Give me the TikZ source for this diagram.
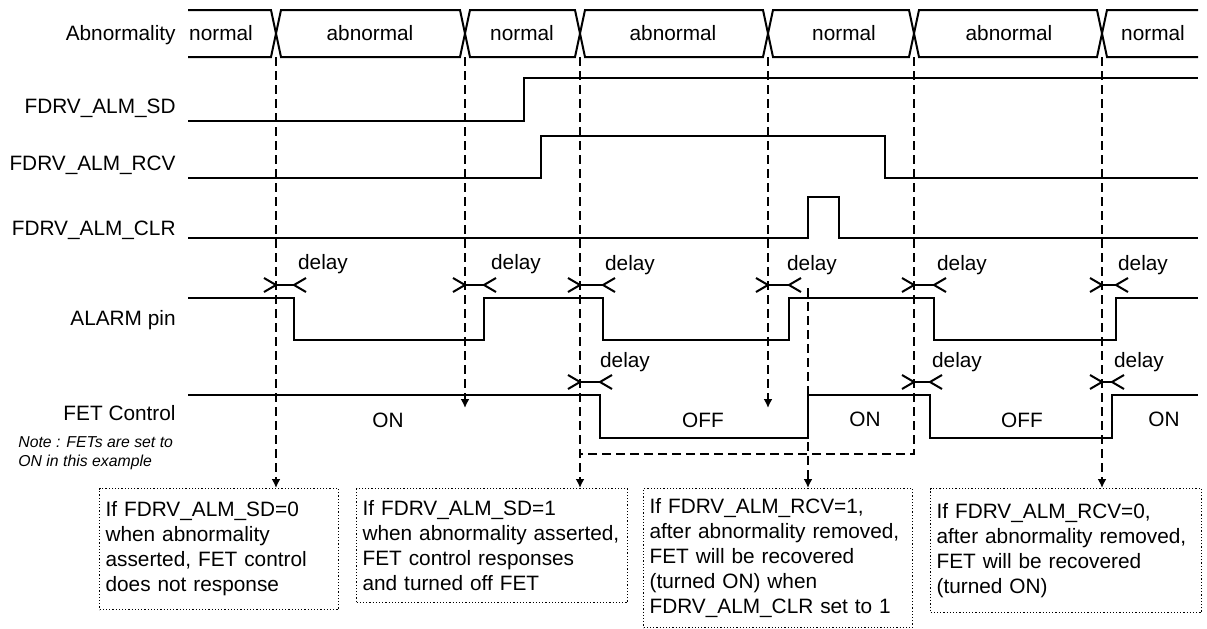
\documentclass[tikz,border=0pt]{standalone}
\usepackage{fontspec}
\setmainfont{Liberation Sans}
\usepackage{tikz}
\usetikzlibrary{arrows.meta,positioning,calc}

% delay marker: tip at #1 and #2, height #3
\newcommand{\delaymark}[3]{%
  \draw[delayline] (#1,#3) -- (#2,#3);
  \draw[delayline] (#1-12,#3-7) -- (#1,#3) -- (#1-12,#3+7);
  \draw[delayline] (#2+12,#3-7) -- (#2,#3) -- (#2+12,#3+7);
}

\begin{document}
\begin{tikzpicture}[
    x=0.5pt,
    y=-0.5pt,
    font=\fontsize{10.4}{12.5}\selectfont,
    sig/.style={line width=1pt},
    guide/.style={dash pattern=on 4.5pt off 2.5pt, line width=1pt},
    delayline/.style={line width=1pt},
    txt/.style={inner sep=0pt, text height=7.5pt, text depth=0pt},
    siglabel/.style={txt, anchor=east},
    notebox/.style={draw, densely dotted, line width=0.6pt, align=left,
        anchor=north west, inner xsep=3pt, inner ysep=3pt,
        execute at begin node={\hyphenpenalty=10000}},
    >={Latex[length=4.5pt,width=4.5pt]}
]
    \useasboundingbox (0,0) rectangle (1207,628);

    % Signal names
    \node[siglabel] (nAbn) at (176,33) {Abnormality};
    \node[siglabel] (nSD) at (176,106) {FDRV\_ALM\_SD};
    \node[siglabel] (nRCV) at (176,163) {FDRV\_ALM\_RCV};
    \node[siglabel] (nCLR) at (176,228) {FDRV\_ALM\_CLR};
    \node[siglabel] (nAlarm) at (176,318) {ALARM pin};
    \node[siglabel] (nFET) at (176,413) {FET Control};
    \node[anchor=north west, inner sep=0pt, align=left,
        font=\fontsize{7.9}{9.5}\selectfont\itshape] (note) at (18,436)
        {Note : FETs are set to\\ON in this example};

    % Abnormality bus
    \draw[sig] (188,10) -- (271,10) -- (281,57) -- (460,57) -- (470,10) -- (575,10) -- (585,57)
        -- (763,57) -- (773,10) -- (909,10) -- (919,57) -- (1097,57) -- (1107,10) -- (1198,10);
    \draw[sig] (188,57) -- (271,57) -- (281,10) -- (460,10) -- (470,57) -- (575,57) -- (585,10)
        -- (763,10) -- (773,57) -- (909,57) -- (919,10) -- (1097,10) -- (1107,57) -- (1198,57);
    \node[txt] (s1) at (221,33) {normal};
    \node[txt] (s2) at (370,33) {abnormal};
    \node[txt] (s3) at (522,33) {normal};
    \node[txt] (s4) at (673,33) {abnormal};
    \node[txt] (s5) at (844,33) {normal};
    \node[txt] (s6) at (1009,33) {abnormal};
    \node[txt] (s7) at (1153,33) {normal};

    % Register bits
    \draw[sig] (188,121) -- (524,121) -- (524,78) -- (1198,78);
    \draw[sig] (188,178) -- (541,178) -- (541,136) -- (885,136) -- (885,178) -- (1198,178);
    \draw[sig] (188,238) -- (808,238) -- (808,197) -- (839,197) -- (839,238) -- (1198,238);

    % ALARM pin
    \draw[sig] (188,298) -- (294,298) -- (294,340) -- (484,340) -- (484,298) -- (603,298)
        -- (603,340) -- (789,340) -- (789,298) -- (934,298) -- (934,340) -- (1116,340)
        -- (1116,298) -- (1198,298);
    \delaymark{276}{294}{285}
    \delaymark{465}{484}{285}
    \delaymark{580}{603}{285}
    \delaymark{768}{789}{285}
    \delaymark{914}{934}{285}
    \delaymark{1102}{1116}{285}
    \node[txt] (d1) at (323,262) {delay};
    \node[txt] (d2) at (516,262) {delay};
    \node[txt] (d3) at (630,263) {delay};
    \node[txt] (d4) at (812,263) {delay};
    \node[txt] (d5) at (962,263) {delay};
    \node[txt] (d6) at (1143,263) {delay};

    % FET control
    \draw[sig] (188,395) -- (600,395) -- (600,438) -- (808,438) -- (808,395) -- (930,395)
        -- (930,438) -- (1112,438) -- (1112,395) -- (1198,395);
    \delaymark{580}{600}{382}
    \delaymark{914}{930}{382}
    \delaymark{1102}{1112}{382}
    \node[txt] (d7) at (625,360) {delay};
    \node[txt] (d8) at (957,360) {delay};
    \node[txt] (d9) at (1139,360) {delay};
    \node[txt] (f1) at (388,420) {ON};
    \node[txt] (f2) at (703,420) {OFF};
    \node[txt] (f3) at (865,419) {ON};
    \node[txt] (f4) at (1022,420) {OFF};
    \node[txt] (f5) at (1164,419) {ON};

    % Notes
    \node[notebox, text width=113.5pt, minimum height=60.5pt] (box1) at (99,488)
        {If FDRV\_ALM\_SD=0\\when abnormality\\asserted, FET control\\does not response};
    \node[notebox, text width=129.5pt, minimum height=57pt] (box2) at (356,488)
        {If FDRV\_ALM\_SD=1\\when abnormality asserted,\\FET control responses\\and turned off FET};
    \node[notebox, text width=128.5pt, minimum height=69.5pt] (box3) at (643,488)
        {If FDRV\_ALM\_RCV=1,\\after abnormality removed,\\FET will be recovered\\(turned ON) when\\FDRV\_ALM\_CLR set to 1};
    \node[notebox, text width=129.5pt, minimum height=62pt] (box4) at (930,488)
        {If FDRV\_ALM\_RCV=0,\\after abnormality removed,\\FET will be recovered\\(turned ON)};

    % Guides
    \coordinate (c1) at (276,57);
    \coordinate (c2) at (465,57);
    \coordinate (c3) at (580,57);
    \coordinate (c4) at (768,57);
    \coordinate (c5) at (914,57);
    \coordinate (c6) at (1102,57);
    \coordinate (e2) at (465,408);
    \coordinate (e4) at (768,408);
    \coordinate (k) at (914,454);
    \coordinate (clr) at (808,288);
    \draw[guide,->] (c1) -- (c1 |- box1.north);
    \draw[guide,->] (c2) -- (e2);
    \draw[guide,->] (c3) -- (c3 |- box2.north);
    \draw[guide,->] (c4) -- (e4);
    \draw[guide] (c5) -- (k) -- (k -| c3);
    \draw[guide,->] (clr) -- (clr |- box3.north);
    \draw[guide,->] (c6) -- (c6 |- box4.north);
\end{tikzpicture}
\end{document}
